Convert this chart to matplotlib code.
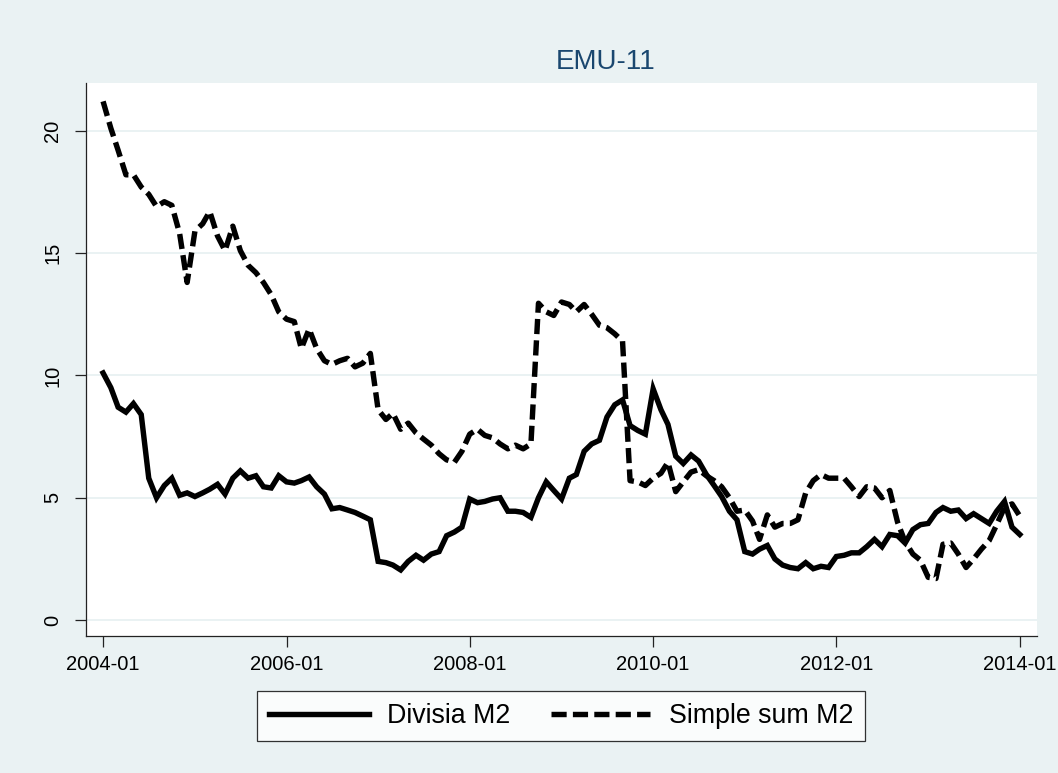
import matplotlib
matplotlib.use("Agg")
import matplotlib.pyplot as plt
import matplotlib.dates as mdates
import pandas as pd
import datetime as dt

plt.rcParams['font.family'] = ['Liberation Sans', 'DejaVu Sans']

# Monthly growth rates (%), 2004-01 .. 2014-01
start_month = "2004-01-01"
n_months = 121

divisia_m2 = [
    10.1, 9.5, 8.7, 8.5, 8.85, 8.4, 5.8, 5.0, 5.5, 5.8,
    5.1, 5.2, 5.05, 5.2, 5.35, 5.55, 5.15, 5.8, 6.1, 5.8,
    5.9, 5.45, 5.4, 5.9, 5.65, 5.6, 5.7, 5.85, 5.45, 5.15,
    4.55, 4.6, 4.5, 4.4, 4.25, 4.1, 2.4, 2.35, 2.25, 2.05,
    2.4, 2.65, 2.45, 2.7, 2.8, 3.45, 3.6, 3.8, 4.95, 4.8,
    4.85, 4.95, 5.0, 4.45, 4.45, 4.4, 4.2, 5.0, 5.65, 5.3,
    4.95, 5.8, 5.95, 6.9, 7.2, 7.35, 8.3, 8.8, 9.0, 7.95,
    7.75, 7.6, 9.45, 8.6, 8.0, 6.7, 6.4, 6.75, 6.5, 5.95,
    5.5, 5.05, 4.45, 4.1, 2.8, 2.7, 2.9, 3.05, 2.5, 2.25,
    2.15, 2.1, 2.35, 2.1, 2.2, 2.15, 2.6, 2.65, 2.75, 2.75,
    3.0, 3.3, 3.0, 3.5, 3.45, 3.15, 3.7, 3.9, 3.95, 4.4,
    4.6, 4.45, 4.5, 4.15, 4.35, 4.15, 3.95, 4.45, 4.85, 3.8,
    3.5,
]

simple_sum_m2 = [
    21.2, 20.1, 19.2, 18.2, 18.2, 17.7, 17.4, 16.9, 17.1, 16.95,
    15.8, 13.8, 15.9, 16.2, 16.7, 15.7, 15.1, 16.1, 15.1, 14.5,
    14.2, 13.8, 13.3, 12.6, 12.3, 12.2, 11.1, 11.9, 11.1, 10.6,
    10.45, 10.6, 10.7, 10.35, 10.5, 10.9, 8.6, 8.2, 8.45, 7.8,
    8.05, 7.65, 7.4, 7.15, 6.8, 6.55, 6.45, 6.9, 7.6, 7.8,
    7.55, 7.45, 7.2, 7.0, 7.15, 7.0, 7.2, 12.95, 12.6, 12.45,
    13.0, 12.9, 12.6, 12.9, 12.5, 12.05, 11.95, 11.7, 11.4, 5.7,
    5.65, 5.5, 5.8, 6.0, 6.45, 5.25, 5.65, 6.05, 6.15, 5.9,
    5.7, 5.45, 5.0, 4.45, 4.5, 4.05, 3.3, 4.3, 3.8, 3.95,
    3.95, 4.1, 5.2, 5.7, 5.95, 5.8, 5.8, 5.8, 5.45, 5.05,
    5.45, 5.4, 5.0, 5.3, 4.0, 3.2, 2.7, 2.45, 1.75, 1.7,
    3.1, 3.15, 2.7, 2.15, 2.5, 2.9, 3.25, 3.9, 4.6, 4.75,
    4.25,
]

series_labels = ["Divisia M2", "Simple sum M2"]
title_text = "EMU-11"
y_ticks = [0, 5, 10, 15, 20]
x_tick_years = [2004, 2006, 2008, 2010, 2012, 2014]

dates = pd.date_range(start_month, periods=n_months, freq="MS")

BG = "#EAF2F3"
TITLE_COLOR = "#1A476F"

fig = plt.figure(figsize=(10.58, 7.73), dpi=100, facecolor=BG)
ax = fig.add_axes([0.0813, 0.1772, 0.8987, 0.7154])
ax.set_facecolor("white")

lw = 3.9
l1, = ax.plot(dates, divisia_m2, color="black", lw=lw, solid_joinstyle="miter",
              label=series_labels[0])
l2, = ax.plot(dates, simple_sum_m2, color="black", lw=lw, linestyle=(0, (2.8, 1.15)),
              dash_capstyle="butt", label=series_labels[1])

# axes limits and ticks
x0 = mdates.date2num(dt.datetime(2004, 1, 1)) - 68
x1 = mdates.date2num(dt.datetime(2014, 1, 1)) + 68
ax.set_xlim(x0, x1)
ax.set_ylim(-0.65, 21.95)

ax.set_yticks(y_ticks)
ax.set_yticklabels([str(v) for v in y_ticks], rotation=90, va="center")
ax.set_xticks([dt.datetime(y, 1, 1) for y in x_tick_years])
ax.xaxis.set_major_formatter(mdates.DateFormatter("%Y-%m"))

ax.grid(axis="y", color=BG, lw=1.4)
ax.grid(axis="x", visible=False)
ax.set_axisbelow(True)

for s in ["top", "right"]:
    ax.spines[s].set_visible(False)
for s in ["left", "bottom"]:
    ax.spines[s].set_color("#222222")
    ax.spines[s].set_linewidth(0.9)

ax.tick_params(axis="both", direction="out", length=8, width=0.9, color="#222222",
               labelsize=14.5, pad=6)
ax.tick_params(axis="y", pad=9)

ax.set_title(title_text, color=TITLE_COLOR, fontsize=20, pad=10, x=0.546)

leg = fig.legend(handles=[l1, l2], labels=series_labels, loc="center",
                 bbox_to_anchor=(0.5305, 0.0737), ncol=2, frameon=True,
                 fancybox=False, edgecolor="black", fontsize=19.3,
                 handlelength=3.7, handletextpad=0.7, columnspacing=1.5,
                 borderpad=0.45)
leg.get_frame().set_linewidth(0.9)

fig.savefig("out.png", dpi=100, facecolor=BG)
